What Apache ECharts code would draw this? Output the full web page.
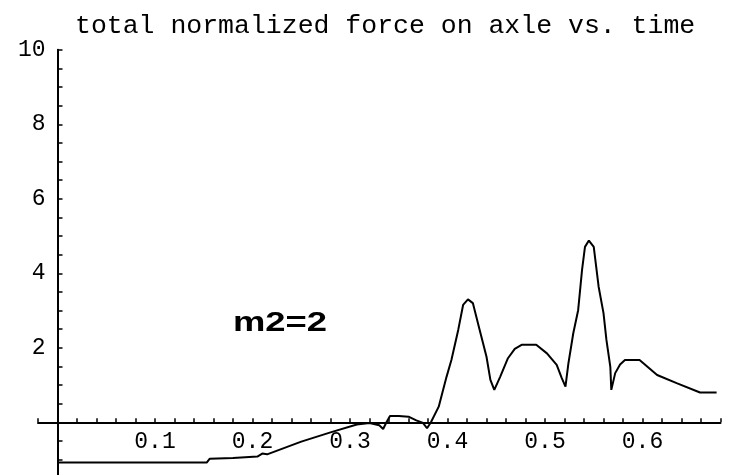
<!DOCTYPE html>
<html>
<head>
<meta charset="utf-8">
<script src="https://cdn.jsdelivr.net/npm/echarts@6/dist/echarts.min.js"></script>
<style>
  html, body { margin: 0; padding: 0; background: #fff; }
  #box { width: 735px; height: 475px; }
</style>
</head>
<body>
<div id="box"></div>
<script>
// time (s) and total normalized force
var timeVals = [0, 0.153, 0.156, 0.18, 0.205, 0.21, 0.215, 0.25, 0.28, 0.307, 0.32, 0.33, 0.334,
	0.337, 0.341, 0.35, 0.36, 0.368, 0.375, 0.379, 0.383, 0.391, 0.399, 0.404, 0.411, 0.416,
	0.421, 0.426, 0.433, 0.44, 0.444, 0.448, 0.454, 0.462, 0.469, 0.476, 0.491, 0.502, 0.512,
	0.517, 0.521, 0.524, 0.529, 0.534, 0.538, 0.541, 0.545, 0.55, 0.555, 0.56, 0.563, 0.567,
	0.568, 0.572, 0.577, 0.582, 0.597, 0.606, 0.615, 0.635, 0.659, 0.676];
var forceVals = [-1.08, -1.08, -0.98, -0.96, -0.92, -0.84, -0.86, -0.52, -0.27, -0.06, -0.02, -0.08, -0.18,
	-0.02, 0.17, 0.17, 0.15, 0.05, -0.02, -0.16, 0.0, 0.42, 1.22, 1.67, 2.48, 3.15,
	3.3, 3.2, 2.48, 1.76, 1.14, 0.87, 1.22, 1.72, 1.97, 2.08, 2.08, 1.85, 1.54,
	1.2, 0.96, 1.58, 2.39, 3.01, 4.09, 4.71, 4.88, 4.71, 3.64, 2.93, 2.21, 1.49,
	0.87, 1.32, 1.55, 1.67, 1.67, 1.47, 1.27, 1.05, 0.8, 0.8];
var xLabels = [0.1, 0.2, 0.3, 0.4, 0.5, 0.6];
var yLabels = [2, 4, 6, 8, 10];

var dom = document.getElementById("box");
var myChart = echarts.init(dom);

var lineData = timeVals.map(function(t, i) {
	return [t, forceVals[i]];
});

function near(v, list) {
	for (var i = 0; i < list.length; i++) {
		if (Math.abs(v - list[i]) < 1e-6) return list[i];
	}
	return null;
}

var monoFont = '"Liberation Mono", "DejaVu Sans Mono", monospace';

// the axes cross at (0, 0), inside the grid: shift each axis there with offset
var option = {
	animation: false,
	backgroundColor: '#fff',
	title: {
		text: 'total normalized force on axle vs. time',
		left: 75,
		top: 12,
		padding: 0,
		textStyle: {
			fontFamily: monoFont,
			fontSize: 26.5,
			fontWeight: 'normal',
			color: '#000'
		}
	},
	grid: {
		left: 38,
		right: 14.5,
		top: 49.8,
		bottom: -21.8,
		containLabel: false,
		outerBoundsMode: 'none'
	},
	xAxis: {
		type: 'value',
		min: -0.02,
		max: 0.68,
		interval: 0.02,
		offset: -74.5,
		splitLine: { show: false },
		axisLine: {
			onZero: false,
			lineStyle: { color: '#000', width: 2 }
		},
		axisTick: {
			inside: true,
			length: 4,
			lineStyle: { color: '#000', width: 1.5 }
		},
		axisLabel: {
			margin: 8,
			color: '#000',
			fontFamily: monoFont,
			fontSize: 23,
			formatter: function(v) {
				var hit = near(v, xLabels);
				return hit === null ? '' : hit.toFixed(1);
			}
		}
	},
	yAxis: {
		type: 'value',
		min: -2,
		max: 10,
		interval: 0.5,
		offset: -19.5,
		splitLine: { show: false },
		axisLine: {
			onZero: false,
			lineStyle: { color: '#000', width: 2 }
		},
		axisTick: {
			inside: true,
			length: 5,
			lineStyle: { color: '#000', width: 1.5 }
		},
		axisLabel: {
			margin: 12,
			color: '#000',
			fontFamily: monoFont,
			fontSize: 23,
			formatter: function(v) {
				var hit = near(v, yLabels);
				return hit === null ? '' : String(hit);
			}
		}
	},
	graphic: [{
		type: 'text',
		x: 233,
		y: 309,
		scaleX: 1.3,
		style: {
			text: 'm2=2',
			font: 'bold 28px "Liberation Sans", Arial, sans-serif',
			fill: '#000',
			verticalAlign: 'top'
		}
	}],
	series: [{
		name: 'force',
		type: 'line',
		data: lineData,
		symbol: 'none',
		lineStyle: {
			color: '#000',
			width: 2
		}
	}]
};

myChart.setOption(option);
</script>
</body>
</html>
